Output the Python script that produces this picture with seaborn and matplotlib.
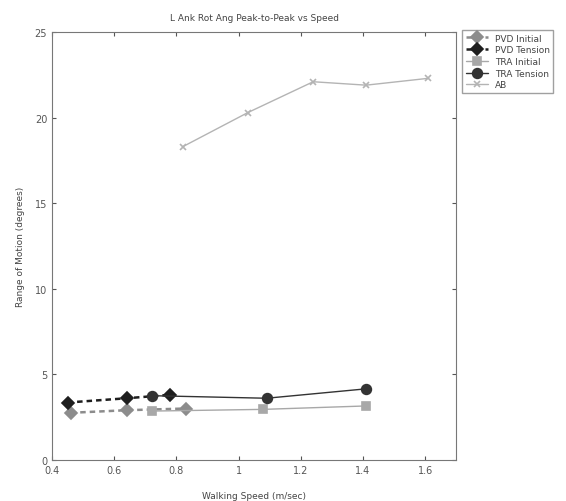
import numpy as np
import pandas as pd
import matplotlib
matplotlib.use('Agg')
import matplotlib.pyplot as plt
import seaborn as sns

# --- data ---
pvd_init_speed = [0.46, 0.64, 0.83]
pvd_init_rom = [2.75, 2.9, 3.0]

pvd_tens_speed = [0.45, 0.64, 0.78]
pvd_tens_rom = [3.35, 3.6, 3.8]

tra_init_speed = [0.72, 1.08, 1.41]
tra_init_rom = [2.85, 2.95, 3.15]

tra_tens_speed = [0.72, 1.09, 1.41]
tra_tens_rom = [3.75, 3.6, 4.15]

ab_speed = [0.82, 1.03, 1.24, 1.41, 1.61]
ab_rom = [18.3, 20.3, 22.1, 21.9, 22.3]

x_ticks = [0.4, 0.6, 0.8, 1, 1.2, 1.4, 1.6]
x_tick_labels = ['0.4', '0.6', '0.8', '1', '1.2', '1.4', '1.6']
y_ticks = [0, 5, 10, 15, 20, 25]

sns.set_style('white')
plt.rcParams['font.family'] = ['DejaVu Sans']

fig = plt.figure(figsize=(5.66, 5.02), dpi=100)
ax = fig.add_axes([0.092, 0.082, 0.714, 0.852])

series = [
    ('PVD Initial', pvd_init_speed, pvd_init_rom, 'D', '--', '#8c8c8c', 6),
    ('PVD Tension', pvd_tens_speed, pvd_tens_rom, 'D', '--', '#1e1e1e', 6),
    ('TRA Initial', tra_init_speed, tra_init_rom, 's', '-', '#a8a8a8', 6),
    ('TRA Tension', tra_tens_speed, tra_tens_rom, 'o', '-', '#333333', 7),
    ('AB', ab_speed, ab_rom, 'x', '-', '#b4b4b4', 5),
]

for name, xs, ys, mk, ls, col, ms in series:
    sns.lineplot(x=xs, y=ys, ax=ax, label=name, marker=mk, linestyle=ls,
                 color=col, markersize=ms, linewidth=1.8 if ls == '--' else 1.0,
                 markeredgecolor=col, markeredgewidth=1.2)
    if ls == '--':
        ax.lines[-1].set_dashes([2.2, 1.6])

ax.set_xlim(0.4, 1.7)
ax.set_ylim(0, 25)
ax.set_xticks(x_ticks)
ax.set_xticklabels(x_tick_labels)
ax.set_yticks(y_ticks)
ax.tick_params(direction='in', length=3, labelsize=7, top=True, right=True,
               bottom=True, left=True, colors='#555555', labelcolor='#555555')
for sp in ax.spines.values():
    sp.set_color('#777777')
    sp.set_linewidth(0.8)

ax.set_title('L Ank Rot Ang Peak-to-Peak vs Speed', fontsize=6.5, color='#444444', pad=9)
ax.set_xlabel('Walking Speed (m/sec)', fontsize=6.5, color='#444444', labelpad=12)
ax.set_ylabel('Range of Motion (degrees)', fontsize=6.5, color='#444444', labelpad=7)

leg = ax.legend(loc='upper left', bbox_to_anchor=(1.015, 1.005), fontsize=6.5,
                frameon=True, fancybox=False, edgecolor='#888888',
                handlelength=2.4, borderaxespad=0, labelspacing=0.3)
for t in leg.get_texts():
    t.set_color('#444444')

fig.savefig('out.png', dpi=100)
